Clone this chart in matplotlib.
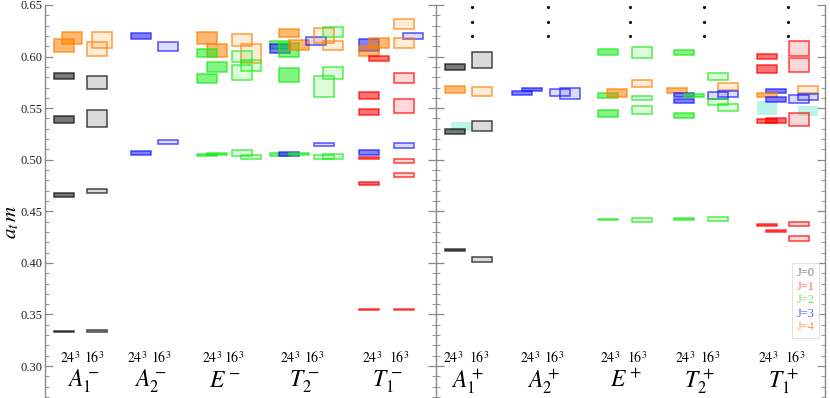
import matplotlib
matplotlib.use("Agg")
import matplotlib.pyplot as plt
from matplotlib.patches import Rectangle
from matplotlib.lines import Line2D
from matplotlib.ticker import MultipleLocator

plt.rcParams["font.family"] = ["Liberation Serif", "DejaVu Serif"]
plt.rcParams["mathtext.fontset"] = "stix"

# levels: (irrep, J, a_t m, error, column shift in box widths)
neg_24 = [
    ("A1m", 4, 0.6104, 0.0063, 0.0), ("A1m", 4, 0.6178, 0.0060, 0.4),
    ("A1m", 0, 0.5810, 0.0028, 0.0), ("A1m", 0, 0.5390, 0.0030, 0.0),
    ("A1m", 0, 0.4658, 0.0017, 0.0), ("A1m", 0, 0.3333, 0.0005, 0.0),
    ("A2m", 3, 0.6197, 0.0028, 0.0), ("A2m", 3, 0.5064, 0.0020, 0.0),
    ("Em", 4, 0.6180, 0.0057, 0.0), ("Em", 4, 0.6056, 0.0063, 0.5),
    ("Em", 2, 0.6035, 0.0036, 0.0), ("Em", 2, 0.5896, 0.0049, 0.5),
    ("Em", 2, 0.5787, 0.0040, 0.0), ("Em", 2, 0.5046, 0.0013, 0.0),
    ("Em", 2, 0.5057, 0.0011, 0.5),
    ("T2m", 4, 0.6231, 0.0039, 0.45), ("T2m", 2, 0.6110, 0.0040, 0.0),
    ("T2m", 3, 0.6078, 0.0040, 0.0), ("T2m", 2, 0.6060, 0.0068, 0.45),
    ("T2m", 4, 0.6111, 0.0047, 0.95), ("T2m", 2, 0.5822, 0.0065, 0.45),
    ("T2m", 2, 0.5052, 0.0013, 0.0), ("T2m", 3, 0.5053, 0.0020, 0.45),
    ("T2m", 2, 0.5054, 0.0011, 0.95),
    ("T1m", 3, 0.6112, 0.0055, 0.0), ("T1m", 4, 0.6056, 0.0047, 0.0),
    ("T1m", 4, 0.6132, 0.0051, 0.5), ("T1m", 1, 0.5980, 0.0026, 0.5),
    ("T1m", 1, 0.5623, 0.0037, 0.0), ("T1m", 1, 0.5460, 0.0030, 0.0),
    ("T1m", 3, 0.5068, 0.0023, 0.0), ("T1m", 1, 0.5019, 0.0011, 0.0),
    ("T1m", 1, 0.4770, 0.0015, 0.0), ("T1m", 1, 0.3550, 0.0004, 0.0),
]

neg_16 = [
    ("A1m", 4, 0.6075, 0.0070, 0.0), ("A1m", 4, 0.6160, 0.0076, 0.25),
    ("A1m", 0, 0.5750, 0.0060, 0.0), ("A1m", 0, 0.5400, 0.0084, 0.0),
    ("A1m", 0, 0.4697, 0.0023, 0.0), ("A1m", 0, 0.3339, 0.0007, 0.0),
    ("A2m", 3, 0.6100, 0.0044, 0.0), ("A2m", 3, 0.5170, 0.0020, 0.0),
    ("Em", 4, 0.6159, 0.0057, 0.0), ("Em", 4, 0.6027, 0.0092, 0.45),
    ("Em", 2, 0.5999, 0.0055, 0.0), ("Em", 2, 0.5913, 0.0050, 0.45),
    ("Em", 2, 0.5845, 0.0073, 0.0), ("Em", 2, 0.5066, 0.0028, 0.0),
    ("Em", 2, 0.5027, 0.0020, 0.45),
    ("T2m", 3, 0.6150, 0.0040, 0.0), ("T2m", 4, 0.6200, 0.0073, 0.4),
    ("T2m", 2, 0.6235, 0.0048, 0.85), ("T2m", 4, 0.6106, 0.0045, 0.85),
    ("T2m", 2, 0.5842, 0.0055, 0.85), ("T2m", 2, 0.5711, 0.0100, 0.4),
    ("T2m", 3, 0.5147, 0.0018, 0.4), ("T2m", 2, 0.5026, 0.0022, 0.4),
    ("T2m", 2, 0.5032, 0.0022, 0.85),
    ("T1m", 4, 0.6313, 0.0048, 0.0), ("T1m", 3, 0.6198, 0.0028, 0.45),
    ("T1m", 4, 0.6131, 0.0045, 0.0), ("T1m", 1, 0.5792, 0.0045, 0.0),
    ("T1m", 1, 0.5518, 0.0068, 0.0), ("T1m", 3, 0.5138, 0.0027, 0.0),
    ("T1m", 1, 0.4988, 0.0016, 0.0), ("T1m", 1, 0.4848, 0.0020, 0.0),
    ("T1m", 1, 0.3550, 0.0005, 0.0),
]

pos_24 = [
    ("A1p", 0, 0.5897, 0.0030, 0.0), ("A1p", 4, 0.5681, 0.0031, 0.0),
    ("A1p", 0, 0.5272, 0.0023, 0.0), ("A1p", 0, 0.4123, 0.0008, 0.0),
    ("A2p", 3, 0.5647, 0.0020, 0.0), ("A2p", 3, 0.5684, 0.0015, 0.5),
    ("Ep", 2, 0.6044, 0.0032, 0.0), ("Ep", 2, 0.5623, 0.0021, 0.0),
    ("Ep", 2, 0.5447, 0.0036, 0.0), ("Ep", 4, 0.5646, 0.0036, 0.45),
    ("Ep", 2, 0.4420, 0.0008, 0.0),
    ("T2p", 2, 0.6040, 0.0024, 0.0), ("T2p", 4, 0.5669, 0.0023, -0.35),
    ("T2p", 3, 0.5627, 0.0016, 0.0), ("T2p", 2, 0.5623, 0.0012, 0.5),
    ("T2p", 3, 0.5571, 0.0018, 0.0), ("T2p", 2, 0.5426, 0.0024, 0.0),
    ("T2p", 2, 0.4423, 0.0008, 0.0),
    ("T1p", 1, 0.5999, 0.0026, 0.0), ("T1p", 1, 0.5878, 0.0040, 0.0),
    ("T1p", 3, 0.5669, 0.0019, 0.45), ("T1p", 4, 0.5627, 0.0023, 0.0),
    ("T1p", 3, 0.5586, 0.0023, 0.45), ("T1p", 1, 0.5372, 0.0020, 0.0),
    ("T1p", 1, 0.5379, 0.0025, 0.45), ("T1p", 1, 0.4369, 0.0008, 0.0),
    ("T1p", 1, 0.4308, 0.0007, 0.45),
]

pos_16 = [
    ("A1p", 0, 0.5967, 0.0080, 0.0), ("A1p", 4, 0.5658, 0.0044, 0.0),
    ("A1p", 0, 0.5330, 0.0049, 0.0), ("A1p", 0, 0.4035, 0.0024, 0.0),
    ("A2p", 3, 0.5652, 0.0030, 0.0), ("A2p", 3, 0.5640, 0.0052, 0.5),
    ("Ep", 2, 0.6036, 0.0053, 0.0), ("Ep", 4, 0.5736, 0.0034, 0.0),
    ("Ep", 2, 0.5601, 0.0020, 0.0), ("Ep", 2, 0.5482, 0.0039, 0.0),
    ("Ep", 2, 0.4416, 0.0016, 0.0),
    ("T2p", 2, 0.5804, 0.0034, 0.0), ("T2p", 4, 0.5712, 0.0036, 0.5),
    ("T2p", 3, 0.5620, 0.0034, 0.0), ("T2p", 3, 0.5639, 0.0028, 0.5),
    ("T2p", 2, 0.5560, 0.0030, 0.0), ("T2p", 2, 0.5506, 0.0034, 0.5),
    ("T2p", 2, 0.4428, 0.0020, 0.0),
    ("T1p", 1, 0.6081, 0.0073, 0.0), ("T1p", 1, 0.5916, 0.0070, 0.0),
    ("T1p", 4, 0.5682, 0.0032, 0.45), ("T1p", 3, 0.5587, 0.0040, 0.0),
    ("T1p", 3, 0.5607, 0.0027, 0.45), ("T1p", 1, 0.5390, 0.0060, 0.0),
    ("T1p", 1, 0.4377, 0.0016, 0.0), ("T1p", 1, 0.4236, 0.0021, 0.0),
]

# cyan bands: (irrep, volume, a_t m, error, shift)
bands = [
    ("A1p", 24, 0.5323, 0.0045, 0.3),
    ("T1p", 24, 0.5501, 0.0068, 0.0),
    ("T1p", 16, 0.5474, 0.0047, 0.45),
]

neg_irreps = ["A1m", "A2m", "Em", "T2m", "T1m"]
pos_irreps = ["A1p", "A2p", "Ep", "T2p", "T1p"]
irrep_tex = {
    "A1m": r"$A_1^-$", "A2m": r"$A_2^-$", "Em": r"$E^-$", "T2m": r"$T_2^-$", "T1m": r"$T_1^-$",
    "A1p": r"$A_1^+$", "A2p": r"$A_2^+$", "Ep": r"$E^+$", "T2p": r"$T_2^+$", "T1p": r"$T_1^+$",
}
legend_labels = ["J=0", "J=1", "J=2", "J=3", "J=4"]
dots_y = [0.648, 0.634, 0.620]

# layout (x in box-width units): column left edges and volume label centres
col24 = {"A1m": 0.45, "A2m": 4.30, "Em": 7.60, "T2m": 11.25, "T1m": 15.70,
         "A1p": 0.45, "A2p": 3.80, "Ep": 8.10, "T2p": 11.90, "T1p": 16.05}
col16 = {"A1m": 2.10, "A2m": 5.65, "Em": 9.35, "T2m": 13.05, "T1m": 17.45,
         "A1p": 1.80, "A2p": 5.70, "Ep": 9.80, "T2p": 13.60, "T1p": 17.65}
lab24 = {"A1m": 1.25, "A2m": 4.60, "Em": 8.35, "T2m": 12.25, "T1m": 16.35,
         "A1p": 0.85, "A2p": 4.70, "Ep": 8.70, "T2p": 12.45, "T1p": 16.60}
lab16 = {"A1m": 2.45, "A2m": 5.80, "Em": 9.45, "T2m": 13.45, "T1m": 17.70,
         "A1p": 2.15, "A2p": 5.90, "Ep": 10.05, "T2p": 13.70, "T1p": 17.95}
BOX_W = 0.98

J_COLORS = {0: (0.05, 0.05, 0.05), 1: (1.0, 0.0, 0.0), 2: (0.1, 0.92, 0.1),
            3: (0.1, 0.1, 1.0), 4: (1.0, 0.5, 0.0)}
LEG_COLORS = ["#808080", "#ff6a6a", "#7ee05a", "#5a5aff", "#ffa060"]


def draw_levels(ax, rows, vol):
    cols = col24 if vol == 24 else col16
    fa = 0.55 if vol == 24 else 0.15
    for irrep, J, m, err, sh in rows:
        c = J_COLORS[J]
        x0 = cols[irrep] + sh
        ax.add_patch(Rectangle((x0, m - err), BOX_W, 2 * err,
                               facecolor=(*c, fa), edgecolor=(*c, 0.75),
                               linewidth=1.1, zorder=3))


def style_axis(ax, width):
    ax.set_xlim(0, width)
    ax.set_ylim(0.27, 0.65)
    ax.set_xticks([])
    ax.yaxis.set_major_locator(MultipleLocator(0.05))
    ax.yaxis.set_minor_locator(MultipleLocator(0.01))
    for s in ("top", "bottom"):
        ax.spines[s].set_visible(False)
    for s in ("left", "right"):
        ax.spines[s].set_color("#8a8a8a")
        ax.spines[s].set_linewidth(1.0)
    ax.tick_params(axis="y", which="major", direction="in", length=5.5,
                   width=0.9, color="#8a8a8a", left=True, right=True)
    ax.tick_params(axis="y", which="minor", direction="in", length=3,
                   width=0.8, color="#9a9a9a", left=True, right=True)


def draw_labels(ax, irreps):
    for ir in irreps:
        ax.text(lab24[ir], 0.3026, r"$24^3$", ha="center", va="baseline", fontsize=10)
        ax.text(lab16[ir], 0.3026, r"$16^3$", ha="center", va="baseline", fontsize=10)
        mid = 0.5 * (lab24[ir] + lab16[ir]) + 0.1
        ax.text(mid, 0.2799, irrep_tex[ir], ha="center", va="baseline", fontsize=17)


fig = plt.figure(figsize=(8.3, 3.98), dpi=100)
ax_l = fig.add_axes([45 / 830, 1 / 398, 391 / 830, 392 / 398])
ax_r = fig.add_axes([436 / 830, 1 / 398, 389 / 830, 392 / 398])

style_axis(ax_l, 391 / 20)
style_axis(ax_r, 389 / 20)
ax_l.spines["right"].set_visible(False)
ax_l.tick_params(axis="y", labelsize=9, labelcolor="#222222", pad=1.5)
ax_r.tick_params(axis="y", labelleft=False)
ax_r.tick_params(axis="y", which="major", right=True, length=6)

# bands first so levels sit on top
for irrep, vol, m, err, sh in bands:
    cols = col24 if vol == 24 else col16
    ax_r.add_patch(Rectangle((cols[irrep] + sh, m - err), BOX_W, 2 * err,
                             facecolor="#9ff2e0", edgecolor="none", alpha=0.7, zorder=2))

draw_levels(ax_l, neg_24, 24)
draw_levels(ax_l, neg_16, 16)
draw_levels(ax_r, pos_24, 24)
draw_levels(ax_r, pos_16, 16)

draw_labels(ax_l, neg_irreps)
draw_labels(ax_r, pos_irreps)

# "more states above" dots
for ir in pos_irreps:
    xd = 0.5 * (lab24[ir] + lab16[ir]) + 0.3
    ax_r.plot([xd] * len(dots_y), dots_y, linestyle="none", marker="o",
              ms=1.3, color="#111111", zorder=4)

handles = [Line2D([], [], linestyle="none") for _ in legend_labels]
leg = ax_r.legend(handles, legend_labels, loc="upper right",
                  bbox_to_anchor=(0.985, 0.342), handlelength=0,
                  handletextpad=0, fancybox=False, fontsize=9,
                  borderpad=0.35, labelspacing=0.12, borderaxespad=0)
for t, c in zip(leg.get_texts(), LEG_COLORS):
    t.set_color(c)
leg.get_frame().set_edgecolor("#dddddd")
leg.get_frame().set_linewidth(0.8)

fig.text(12 / 830, 1 - 222 / 398, r"$a_t\,m$", rotation=90, fontsize=15,
         ha="center", va="center")

fig.savefig("out.png", dpi=100)
